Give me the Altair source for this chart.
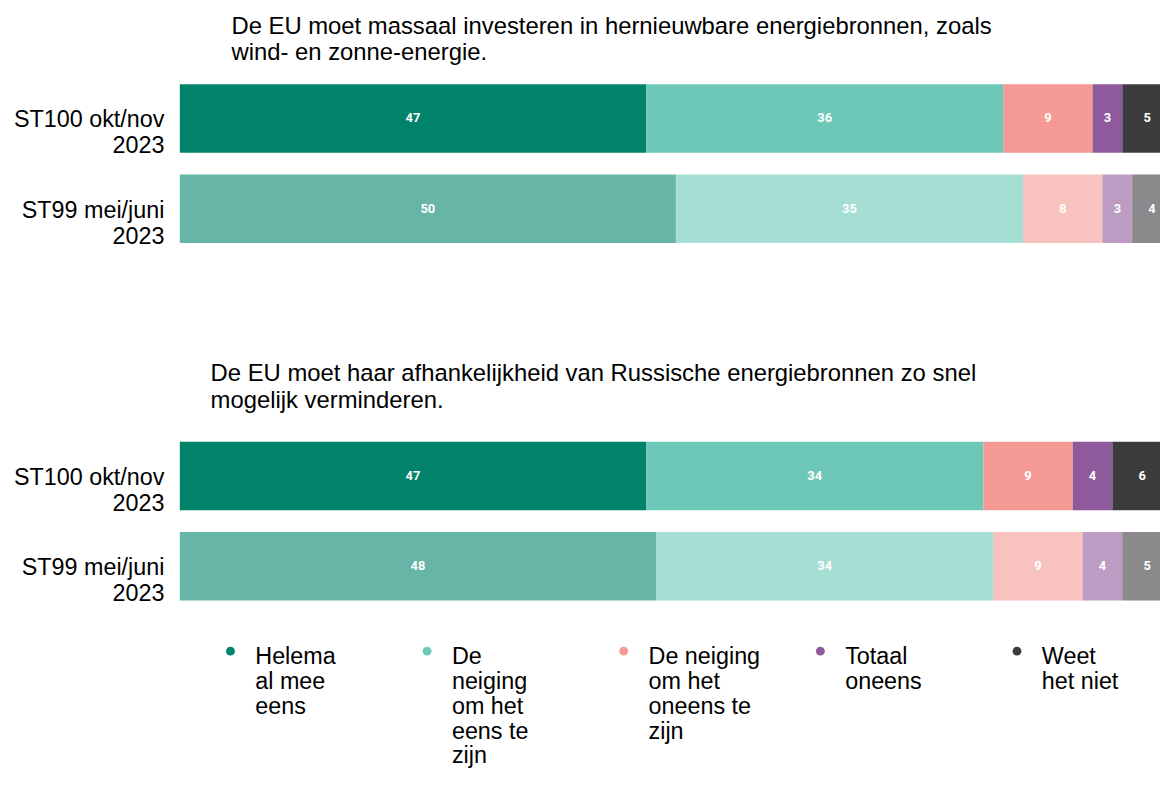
import altair as alt
import pandas as pd

# ---- data -------------------------------------------------------------
question_lines = [
    ["De EU moet massaal investeren in hernieuwbare energiebronnen, zoals",
     "wind- en zonne-energie."],
    ["De EU moet haar afhankelijkheid van Russische energiebronnen zo snel",
     "mogelijk verminderen."],
]
surveys = ["ST100 okt/nov 2023", "ST99 mei/juni 2023"]
categories = [
    "Helemaal mee eens",
    "De neiging om het eens te zijn",
    "De neiging om het oneens te zijn",
    "Totaal oneens",
    "Weet het niet",
]
legend_lines = [
    ["Helema", "al mee", "eens"],
    ["De", "neiging", "om het", "eens te", "zijn"],
    ["De neiging", "om het", "oneens te", "zijn"],
    ["Totaal", "oneens"],
    ["Weet", "het niet"],
]
q1_st100 = [47, 36, 9, 3, 5]
q1_st99 = [50, 35, 8, 3, 4]
q2_st100 = [47, 34, 9, 4, 6]
q2_st99 = [48, 34, 9, 4, 5]

colors = ["#00836A", "#6DC8B7", "#F49993", "#8F5A9B", "#3E3B3F"]

series = {
    (0, 0): q1_st100,
    (0, 1): q1_st99,
    (1, 0): q2_st100,
    (1, 1): q2_st99,
}

rows = []
for (qi, si), vals in series.items():
    for ci, v in enumerate(vals):
        rows.append({"q": qi, "survey": surveys[si], "category": categories[ci],
                     "order": ci, "value": v})
df = pd.DataFrame(rows)

legend_df = pd.DataFrame({
    "category": categories,
    "label": ["\n".join(l) for l in legend_lines],
})

FONT = "Liberation Sans"
BAR_FONT = "Liberation Sans Narrow, Roboto, Open Sans, sans-serif"

color_scale = alt.Scale(domain=categories, range=colors)

y_label_expr = ("[slice(datum.label, 0, lastindexof(datum.label, ' ')), "
                "slice(datum.label, lastindexof(datum.label, ' ') + 1)]")

PLOT_W = 987
X_MAX = 98.8  # the original chart is cut off at the right edge of the page


def panel(qi, dx, offset):
    base = alt.Chart(df[df.q == qi]).transform_stack(
        stack="value", as_=["x0", "x1"], groupby=["survey"],
        sort=[alt.SortField("order", order="ascending")]
    ).transform_calculate(
        mid="(datum.x0 + datum.x1) / 2",
        x1c=f"min(datum.x1, {X_MAX})",
    )

    y = alt.Y("survey:N", sort=surveys, title=None,
              scale=alt.Scale(paddingInner=0.242, paddingOuter=0.121),
              axis=alt.Axis(domain=False, ticks=False, labelFont=FONT,
                            labelFontSize=23.5, labelColor="#000000",
                            labelPadding=16, labelAlign="right",
                            labelBaseline="middle", labelOffset=2,
                            labelLineHeight=26, labelLimit=400,
                            labelExpr=y_label_expr))
    x_scale = alt.Scale(domain=[0, X_MAX], nice=False, zero=True)

    bars = base.mark_bar().encode(
        x=alt.X("x0:Q", scale=x_scale, axis=None),
        x2="x1c:Q",
        y=y,
        color=alt.Color("category:N", sort=categories, scale=color_scale,
                        legend=None),
        opacity=alt.Opacity("survey:N", sort=surveys,
                            scale=alt.Scale(domain=surveys, range=[1.0, 0.6]),
                            legend=None),
    )
    labels = base.mark_text(color="white", font=BAR_FONT,
                            fontWeight="bold", fontSize=13).encode(
        x=alt.X("mid:Q", scale=x_scale, axis=None),
        y=alt.Y("survey:N", sort=surveys),
        text="value:Q",
    )
    return alt.layer(bars, labels).properties(
        width=PLOT_W, height=182,
        title=alt.TitleParams(
            text=question_lines[qi], anchor="start", frame="group", dx=dx,
            font=FONT, fontSize=24, fontWeight="normal", color="#000000",
            lineHeight=26.7, offset=offset,
        ),
    )


# custom legend: dots and wrapped labels along a point scale of the categories
leg_x = alt.X("category:N", sort=categories, axis=None,
              scale=alt.Scale(type="point", range=[51, 843], padding=0))
legend_base = alt.Chart(legend_df)
legend_dots = legend_base.mark_circle(size=80, opacity=1).encode(
    x=leg_x,
    color=alt.Color("category:N", sort=categories, scale=color_scale, legend=None),
)
legend_text = legend_base.mark_text(
    align="left", baseline="alphabetic", dx=25, dy=13, lineBreak="\n",
    font=FONT, fontSize=23.5, lineHeight=25, color="#000000",
).encode(
    x=leg_x,
    text="label:N",
)
legend_chart = alt.layer(legend_dots, legend_text).properties(width=PLOT_W, height=18)

chart = alt.vconcat(
    alt.vconcat(panel(0, 52, 8), panel(1, 31, 18), spacing=109),
    legend_chart,
    spacing=31,
).properties(
    padding={"left": 5, "top": 4, "right": 0, "bottom": 0},
).resolve_scale(color="shared")

chart = chart.configure_view(stroke=None)

chart.save("out.html", embed_options={"renderer": "svg", "actions": False})
